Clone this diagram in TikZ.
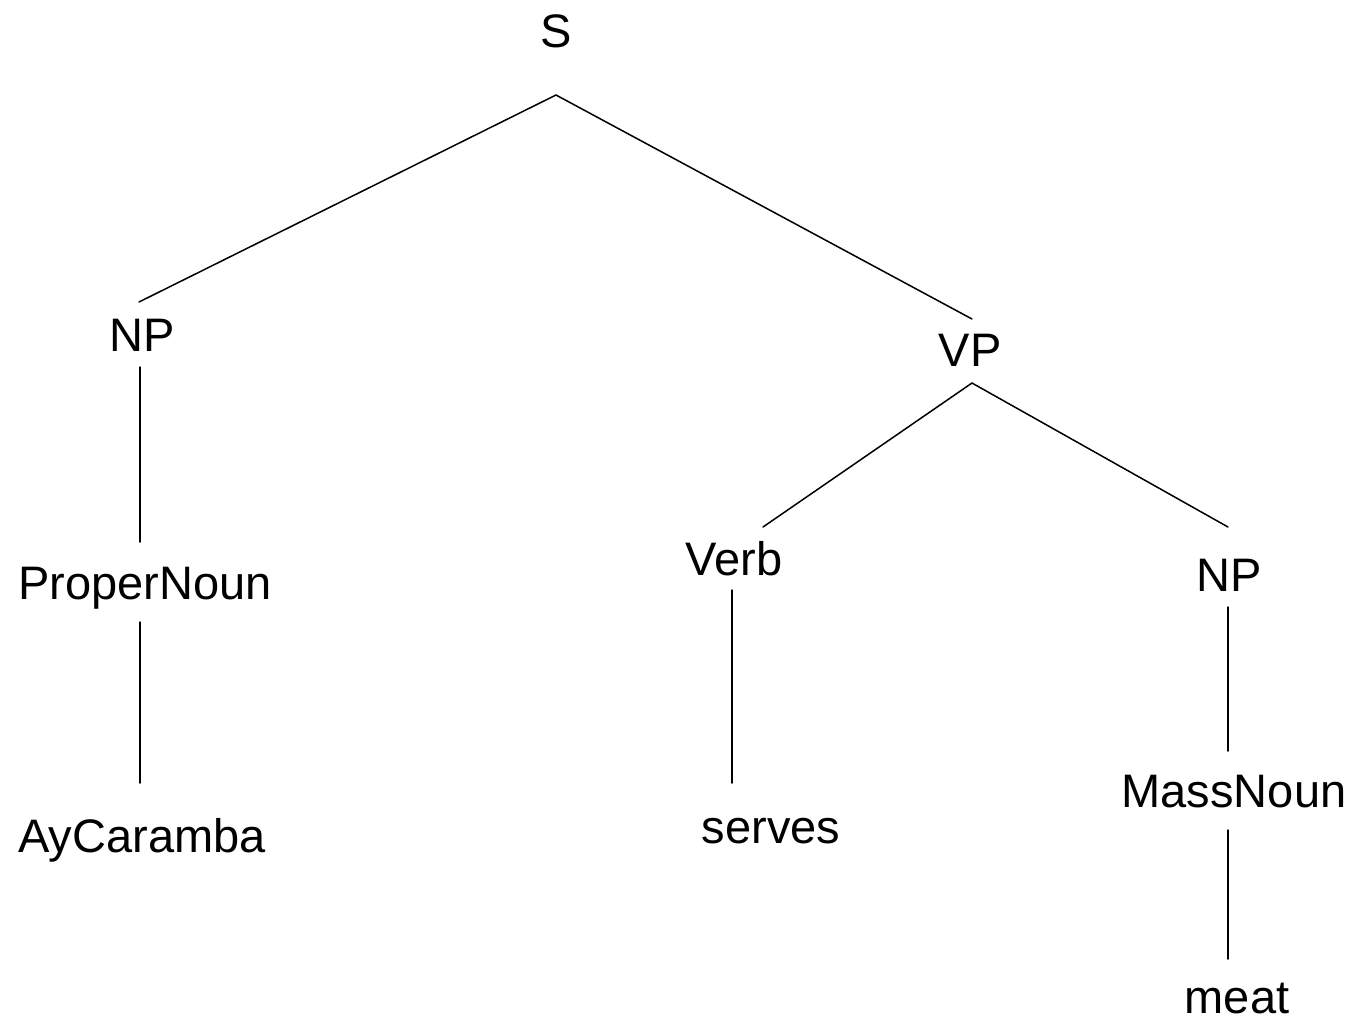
\documentclass[tikz,border=0pt]{standalone}
\usepackage{fontspec}
\setmainfont{Liberation Sans}
\begin{document}
\begin{tikzpicture}[x=1pt,y=-1pt,
  lbl/.style={anchor=base,inner sep=0pt,font=\fontsize{47}{56}\selectfont},
  edge/.style={line width=1.5pt,line cap=round}]
\useasboundingbox (0,0) rectangle (1355,1021);
% labels
\node[lbl] (S) at (556,47) {S};
\node[lbl] (NP1) at (142,351) {NP};
\node[lbl] (VP) at (970,366) {VP};
\node[lbl] (PN) at (145,599) {ProperNoun};
\node[lbl] (V) at (734,575) {Verb};
\node[lbl] (NP2) at (1229,591) {NP};
\node[lbl] (AC) at (142,852) {AyCaramba};
\node[lbl] (SV) at (771,843) {serves};
\node[lbl] (MN) at (1234,807) {MassNoun};
\node[lbl] (MT) at (1237,1013) {meat};
% connector end points
\coordinate (S-d) at (556,95);
\coordinate (NP1-u) at (139,302);
\coordinate (NP1-d) at (140,367);
\coordinate (VP-u) at (972,319);
\coordinate (VP-d) at (972,383);
\coordinate (PN-u) at (140,542);
\coordinate (PN-d) at (140,622);
\coordinate (AC-u) at (140,783);
\coordinate (V-u) at (763,527);
\coordinate (V-d) at (732,590);
\coordinate (SV-u) at (732,783);
\coordinate (NP2-u) at (1228,527);
\coordinate (NP2-d) at (1228,607);
\coordinate (MN-u) at (1228,751);
\coordinate (MN-d) at (1228,830);
\coordinate (MT-u) at (1228,959);
% connectors
\draw[edge] (NP1-u) -- (S-d) -- (VP-u);
\draw[edge] (NP1-d) -- (PN-u);
\draw[edge] (PN-d) -- (AC-u);
\draw[edge] (V-u) -- (VP-d) -- (NP2-u);
\draw[edge] (V-d) -- (SV-u);
\draw[edge] (NP2-d) -- (MN-u);
\draw[edge] (MN-d) -- (MT-u);
\end{tikzpicture}
\end{document}
